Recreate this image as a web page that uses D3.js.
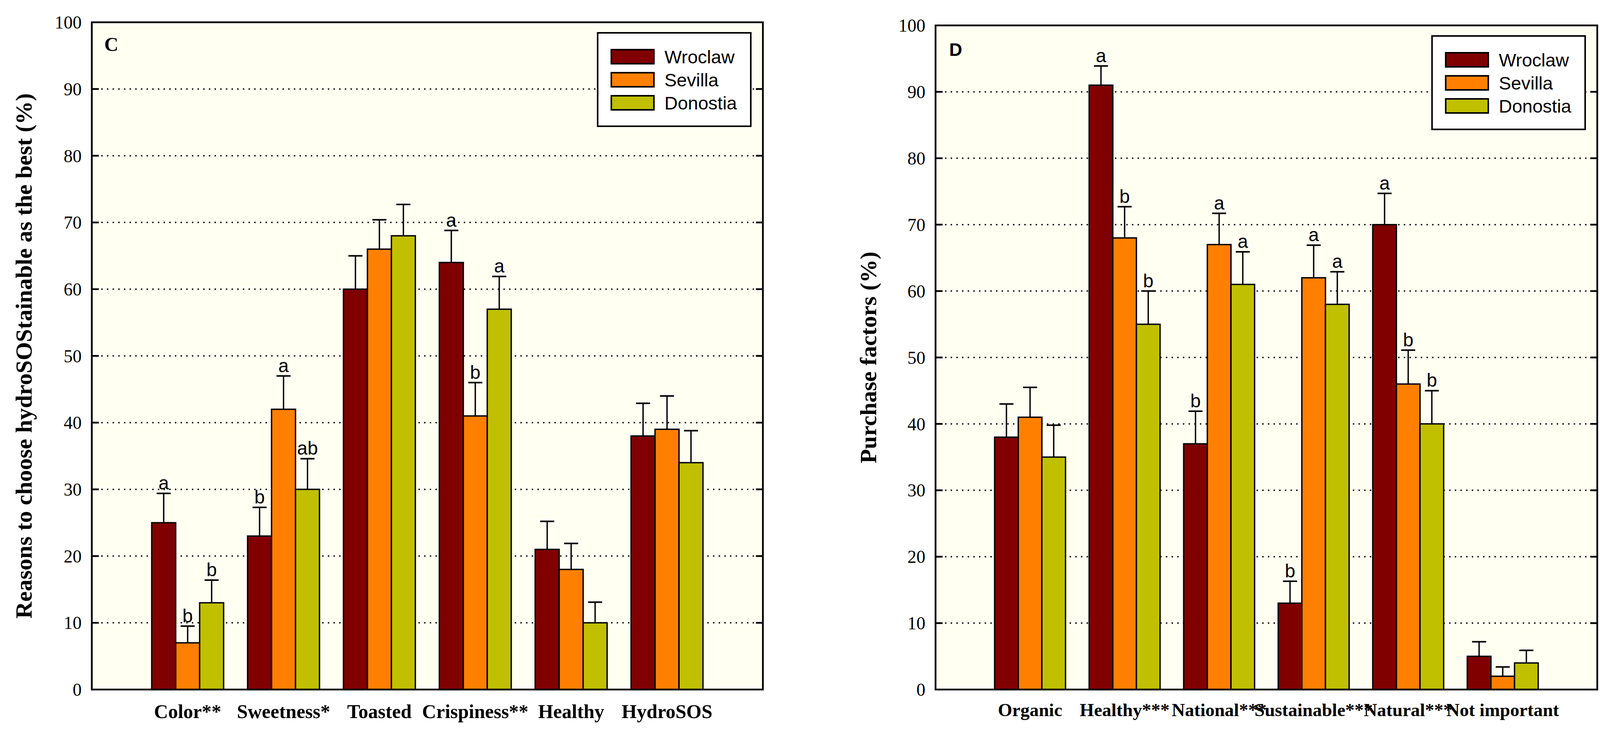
<!DOCTYPE html>
<html>
<head>
<meta charset="utf-8">
<script src="https://cdn.jsdelivr.net/npm/d3@7"></script>
<style>
  html, body { margin: 0; padding: 0; background: #ffffff; }
  svg { display: block; }
</style>
</head>
<body>
<svg id="chart" width="4135" height="1888"></svg>
<script>
// ---------------- DATA ----------------
const seriesNames = ["Wroclaw", "Sevilla", "Donostia"];
const yTicks = [0, 10, 20, 30, 40, 50, 60, 70, 80, 90, 100];

// Panel C
const categoriesC = ["Color**", "Sweetness*", "Toasted", "Crispiness**", "Healthy", "HydroSOS"];
const wroclawC   = [25, 23, 60, 64, 21, 38];
const sevillaC   = [7, 42, 66, 41, 18, 39];
const donostiaC  = [13, 30, 68, 57, 10, 34];
const wroclawErrC  = [4.4, 4.3, 5.0, 4.8, 4.2, 4.9];
const sevillaErrC  = [2.5, 5.0, 4.4, 5.0, 3.9, 5.0];
const donostiaErrC = [3.4, 4.6, 4.7, 4.9, 3.1, 4.8];
const wroclawLetC  = ["a", "b", "", "a", "", ""];
const sevillaLetC  = ["b", "a", "", "b", "", ""];
const donostiaLetC = ["b", "ab", "", "a", "", ""];

// Panel D
const categoriesD = ["Organic", "Healthy***", "National***", "Sustainable***", "Natural***", "Not important"];
const wroclawD   = [38, 91, 37, 13, 70, 5];
const sevillaD   = [41, 68, 67, 62, 46, 2];
const donostiaD  = [35, 55, 61, 58, 40, 4];
const wroclawErrD  = [5.0, 2.9, 4.9, 3.3, 4.7, 2.2];
const sevillaErrD  = [4.5, 4.7, 4.7, 4.9, 5.1, 1.4];
const donostiaErrD = [4.8, 5.0, 4.9, 4.9, 5.0, 1.9];
const wroclawLetD  = ["", "a", "b", "b", "a", ""];
const sevillaLetD  = ["", "b", "a", "a", "b", ""];
const donostiaLetD = ["", "b", "a", "a", "b", ""];

// ---------------- STYLE ----------------
const seriesColors = ["#800000", "#ff8000", "#c0c000"];
const plotBg = "#fffff2";
const serif = "'Liberation Serif', 'Times New Roman', serif";
const sans = "'Liberation Sans', Arial, sans-serif";

const svg = d3.select("#chart");

function drawPanel(cfg) {
  const { left, right, top, bottom, categories, values, errors, letters } = cfg;
  const g = svg.append("g");

  const y = d3.scaleLinear().domain([0, 100]).range([bottom, top]);
  const x0 = d3.scaleBand().domain(categories).range([left, right])
    .paddingInner(0.25).paddingOuter(0.625);
  const x1 = d3.scaleBand().domain(seriesNames).range([0, x0.bandwidth()]);

  // background
  g.append("rect").attr("x", left).attr("y", top)
    .attr("width", right - left).attr("height", bottom - top)
    .attr("fill", plotBg);

  // dotted gridlines
  const tickLen = 18;
  const inner = yTicks.filter(t => t > 0 && t < 100);
  g.append("g").selectAll("line").data(inner).join("line")
    .attr("x1", left + tickLen + 8).attr("x2", right - tickLen)
    .attr("y1", d => y(d)).attr("y2", d => y(d))
    .attr("stroke", "#000").attr("stroke-width", 4)
    .attr("stroke-linecap", "round")
    .attr("stroke-dasharray", "0.1 14.4");

  // inward ticks left & right
  g.append("g").selectAll("line").data(inner).join("line")
    .attr("x1", left).attr("x2", left + tickLen)
    .attr("y1", d => y(d)).attr("y2", d => y(d))
    .attr("stroke", "#000").attr("stroke-width", 4.5);
  g.append("g").selectAll("line").data(inner).join("line")
    .attr("x1", right - tickLen).attr("x2", right)
    .attr("y1", d => y(d)).attr("y2", d => y(d))
    .attr("stroke", "#000").attr("stroke-width", 4.5);

  // bars, error bars, letters
  const groups = g.append("g").selectAll("g").data(categories).join("g")
    .attr("transform", d => `translate(${x0(d)},0)`);
  groups.each(function(cat, ci) {
    const gg = d3.select(this);
    seriesNames.forEach((s, si) => {
      const v = values[si][ci];
      const e = errors[si][ci];
      const bx = x1(s);
      const bw = x1.bandwidth();
      gg.append("rect")
        .attr("x", bx).attr("y", y(v))
        .attr("width", bw).attr("height", y(0) - y(v))
        .attr("fill", seriesColors[si])
        .attr("stroke", "#000").attr("stroke-width", 3.5);
      const cx = bx + bw / 2;
      gg.append("line")
        .attr("x1", cx).attr("x2", cx)
        .attr("y1", y(v)).attr("y2", y(v + e))
        .attr("stroke", "#000").attr("stroke-width", 3.5);
      gg.append("line")
        .attr("x1", cx - 18).attr("x2", cx + 18)
        .attr("y1", y(v + e)).attr("y2", y(v + e))
        .attr("stroke", "#000").attr("stroke-width", 4);
      const L = letters[si][ci];
      if (L) {
        gg.append("text")
          .attr("x", cx).attr("y", y(v + e) - 10)
          .attr("text-anchor", "middle")
          .attr("font-family", sans).attr("font-size", 48)
          .text(L);
      }
    });
  });

  // frame
  g.append("rect").attr("x", left).attr("y", top)
    .attr("width", right - left).attr("height", bottom - top)
    .attr("fill", "none").attr("stroke", "#000").attr("stroke-width", 4.5);

  // y tick labels
  const yAxis = d3.axisLeft(y).tickValues(yTicks).tickSize(0).tickPadding(26);
  const ya = g.append("g").attr("transform", `translate(${left},0)`).call(yAxis);
  ya.select(".domain").remove();
  ya.selectAll("text").attr("font-family", serif).attr("font-size", 46)
    .attr("fill", "#000").attr("dy", "0.34em");

  // x labels
  const xAxis = d3.axisBottom(x0).tickSize(0).tickPadding(0);
  const xa = g.append("g").attr("transform", `translate(0,${cfg.xLabelY})`).call(xAxis);
  xa.select(".domain").remove();
  xa.selectAll("text").attr("font-family", serif).attr("font-weight", "bold")
    .attr("font-size", cfg.xFont).attr("fill", "#000").attr("dy", 0);

  // y title
  g.append("text")
    .attr("transform", `translate(${cfg.titleX},${(top + bottom) / 2}) rotate(-90)`)
    .attr("text-anchor", "middle")
    .attr("font-family", serif).attr("font-weight", "bold").attr("font-size", 60)
    .text(cfg.title);

  // panel letter
  g.append("text").attr("x", left + cfg.tagDx).attr("y", top + cfg.tagDy)
    .attr("font-family", cfg.tagFont).attr("font-weight", "bold")
    .attr("font-size", cfg.tagSize).text(cfg.tag);

  // legend
  const lw = 392, lh = 239;
  const lx = right - 31 - lw, ly = top + 27;
  const lg = g.append("g");
  lg.append("rect").attr("x", lx).attr("y", ly).attr("width", lw).attr("height", lh)
    .attr("fill", "#fff").attr("stroke", "#000").attr("stroke-width", 4);
  seriesNames.forEach((s, i) => {
    const cy = ly + 61 + i * 59;
    lg.append("rect").attr("x", lx + 35).attr("y", cy - 18)
      .attr("width", 109).attr("height", 36)
      .attr("fill", seriesColors[i]).attr("stroke", "#000").attr("stroke-width", 4);
    lg.append("text").attr("x", lx + 171).attr("y", cy + 17)
      .attr("font-family", sans).attr("font-size", 47).text(s);
  });
}

drawPanel({
  left: 235, right: 1953, top: 57, bottom: 1764,
  categories: categoriesC,
  values: [wroclawC, sevillaC, donostiaC],
  errors: [wroclawErrC, sevillaErrC, donostiaErrC],
  letters: [wroclawLetC, sevillaLetC, donostiaLetC],
  xLabelY: 1837, xFont: 50,
  title: "Reasons to choose hydroSOStainable as the best (%)", titleX: 81,
  tag: "C", tagDx: 32, tagDy: 73, tagFont: serif, tagSize: 50
});

drawPanel({
  left: 2395, right: 4089, top: 65, bottom: 1764,
  categories: categoriesD,
  values: [wroclawD, sevillaD, donostiaD],
  errors: [wroclawErrD, sevillaErrD, donostiaErrD],
  letters: [wroclawLetD, sevillaLetD, donostiaLetD],
  xLabelY: 1832, xFont: 47,
  title: "Purchase factors (%)", titleX: 2243,
  tag: "D", tagDx: 35, tagDy: 78, tagFont: sans, tagSize: 46
});
</script>
</body>
</html>
